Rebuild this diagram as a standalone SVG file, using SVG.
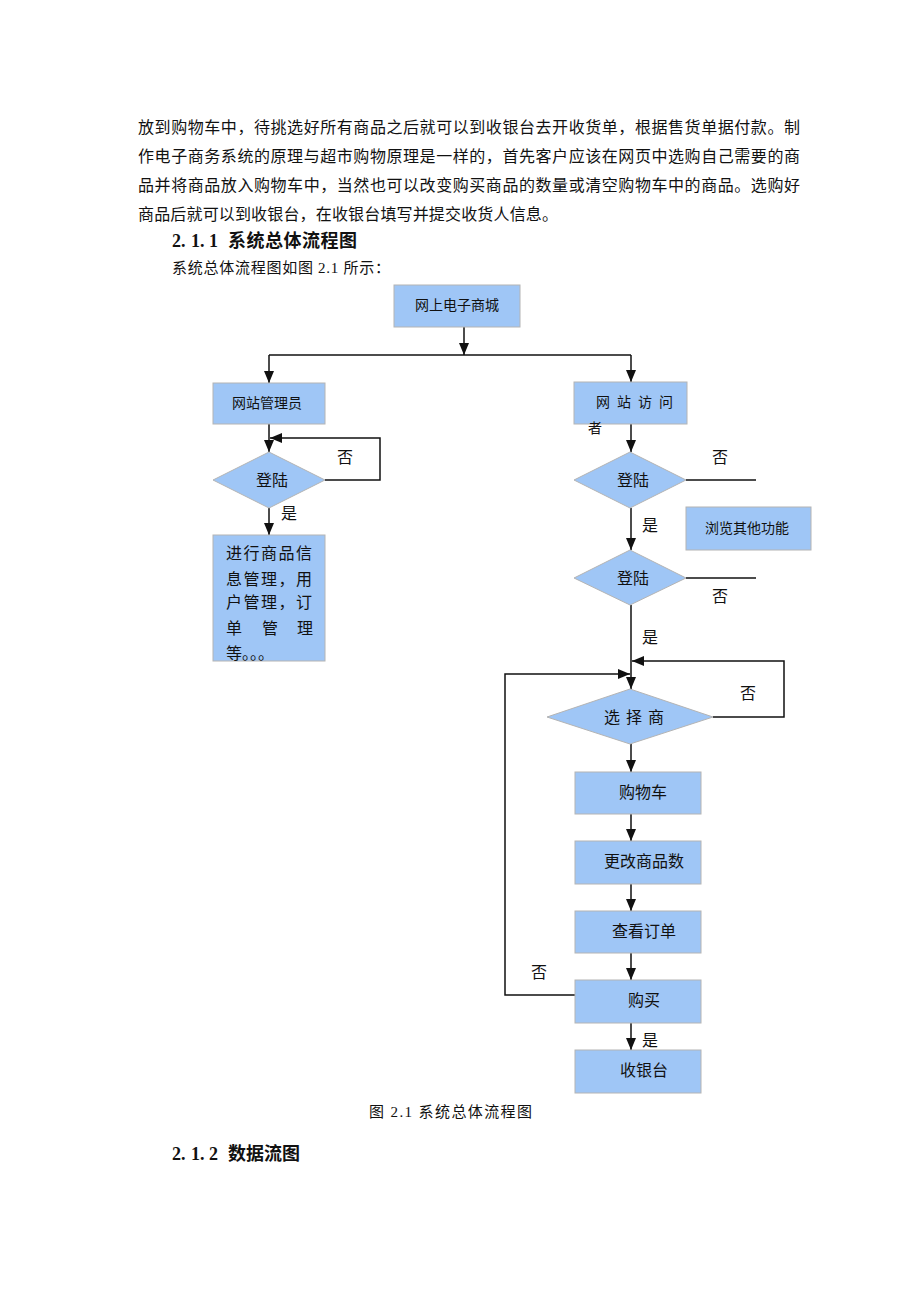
<svg xmlns="http://www.w3.org/2000/svg" width="920" height="1302" viewBox="0 0 920 1302">
<defs>
<style>
.t{font-family:"Liberation Serif","Noto Sans CJK SC",serif;fill:#111;}
.p{font-size:16px;}
.h{font-size:18px;font-weight:bold;}
.n{font-size:14px;}
.m{font-size:16px;}
.box{fill:#9fc6f6;stroke:#b4b4b4;stroke-width:1;}
.ln{fill:none;stroke:#111;stroke-width:1.5;}
.ar{marker-end:url(#ah);}
</style>
<marker id="ah" viewBox="0 0 12 10" refX="12" refY="5" markerWidth="12" markerHeight="10" markerUnits="userSpaceOnUse" orient="auto">
<path d="M0,0 L12,5 L0,10 z" fill="#111"/>
</marker>
</defs>
<rect width="920" height="1302" fill="#fff"/>
<g id="body-text" class="t p">
<text x="138" y="133" textLength="662" lengthAdjust="spacing">放到购物车中，待挑选好所有商品之后就可以到收银台去开收货单，根据售货单据付款。制</text>
<text x="138" y="162" textLength="662" lengthAdjust="spacing">作电子商务系统的原理与超市购物原理是一样的，首先客户应该在网页中选购自己需要的商</text>
<text x="138" y="191" textLength="662" lengthAdjust="spacing">品并将商品放入购物车中，当然也可以改变购买商品的数量或清空购物车中的商品。选购好</text>
<text x="138" y="220" textLength="420" lengthAdjust="spacing">商品后就可以到收银台，在收银台填写并提交收货人信息。</text>
<text class="t h" y="247"><tspan x="172">2.</tspan><tspan x="191">1.</tspan><tspan x="209">1</tspan><tspan x="228" textLength="129" lengthAdjust="spacing">系统总体流程图</tspan></text>
<text x="172" y="273" style="font-size:15px" textLength="218" lengthAdjust="spacing">系统总体流程图如图 2.1 所示：</text>
<text x="369" y="1117" style="font-size:15px" textLength="163" lengthAdjust="spacing">图 2.1 系统总体流程图</text>
<text class="t h" y="1160"><tspan x="172">2.</tspan><tspan x="191">1.</tspan><tspan x="209">2</tspan><tspan x="228" textLength="72" lengthAdjust="spacing">数据流图</tspan></text>
</g>
<g id="connectors" class="ln">
<path class="ar" d="M464,327 V355"/>
<path d="M269,355 H631"/>
<path class="ar" d="M269,355 V383"/>
<path class="ar" d="M631,355 V382"/>
<path class="ar" d="M269,424 V452"/>
<path class="ar" d="M325,480 H380 V438 H270"/>
<path class="ar" d="M269,508 V535"/>
<path class="ar" d="M631,424 V452"/>
<path d="M686,480 H756"/>
<path class="ar" d="M631,508 V550"/>
<path d="M686,578 H756"/>
<path class="ar" d="M631,605 V689"/>
<path class="ar" d="M713,717 H784 V661 H632"/>
<path class="ar" d="M575,995 H505 V674 H630"/>
<path class="ar" d="M631,744 V772"/>
<path class="ar" d="M631,814 V841"/>
<path class="ar" d="M631,884 V911"/>
<path class="ar" d="M631,953 V980"/>
<path class="ar" d="M631,1023 V1050"/>
</g>
<g id="edge-labels" class="t m">
<text x="337" y="463">否</text>
<text x="281" y="519">是</text>
<text x="712" y="463">否</text>
<text x="642" y="531">是</text>
<text x="712" y="602">否</text>
<text x="642" y="643">是</text>
<text x="740" y="699">否</text>
<text x="531" y="978">否</text>
<text x="642" y="1046">是</text>
</g>
<g id="n-mall">
<rect class="box" x="394" y="285" width="126" height="42"/>
<text class="t n" x="457" y="310" text-anchor="middle">网上电子商城</text>
</g>
<g id="n-admin">
<rect class="box" x="213" y="383" width="112" height="41"/>
<text class="t n" x="267" y="408" text-anchor="middle">网站管理员</text>
</g>
<g id="n-admin-login">
<polygon class="box" points="269,452 325,480 269,508 213,480"/>
<text class="t m" x="272" y="486" text-anchor="middle">登陆</text>
</g>
<g id="n-admin-manage">
<rect class="box" x="213" y="535" width="112" height="126"/>
<g class="t m">
<text x="226" y="559" textLength="86" lengthAdjust="spacing">进行商品信</text>
<text x="226" y="585" textLength="86" lengthAdjust="spacing">息管理，用</text>
<text x="226" y="608" textLength="86" lengthAdjust="spacing">户管理，订</text>
<text x="226" y="634">单</text>
<text x="262" y="634">管</text>
<text x="297" y="634">理</text>
<text x="226" y="659">等。。。</text>
</g>
</g>
<g id="n-visitor">
<rect class="box" x="574" y="382" width="113" height="42"/>
<text class="t n" x="596" y="407" letter-spacing="7">网站访问</text>
<text class="t n" x="588" y="433">者</text>
</g>
<g id="n-visitor-login1">
<polygon class="box" points="630,452 686,480 630,508 574,480"/>
<text class="t m" x="633" y="486" text-anchor="middle">登陆</text>
</g>
<g id="n-browse">
<rect class="box" x="686" y="507" width="125" height="43"/>
<text class="t n" x="747" y="533" text-anchor="middle">浏览其他功能</text>
</g>
<g id="n-visitor-login2">
<polygon class="box" points="630,550 686,578 630,605 574,578"/>
<text class="t m" x="633" y="584" text-anchor="middle">登陆</text>
</g>
<g id="n-select">
<polygon class="box" points="630,689 713,717 630,744 547,717"/>
<text class="t m" x="604" y="723" letter-spacing="6">选择商</text>
</g>
<g id="n-cart">
<rect class="box" x="575" y="772" width="126" height="42"/>
<text class="t m" x="643" y="798" text-anchor="middle">购物车</text>
</g>
<g id="n-change">
<rect class="box" x="575" y="841" width="126" height="43"/>
<text class="t m" x="644" y="867" text-anchor="middle">更改商品数</text>
</g>
<g id="n-order">
<rect class="box" x="575" y="911" width="126" height="42"/>
<text class="t m" x="644" y="937" text-anchor="middle">查看订单</text>
</g>
<g id="n-buy">
<rect class="box" x="575" y="980" width="126" height="43"/>
<text class="t m" x="644" y="1006" text-anchor="middle">购买</text>
</g>
<g id="n-checkout">
<rect class="box" x="575" y="1050" width="126" height="43"/>
<text class="t m" x="644" y="1076" text-anchor="middle">收银台</text>
</g>
</svg>
